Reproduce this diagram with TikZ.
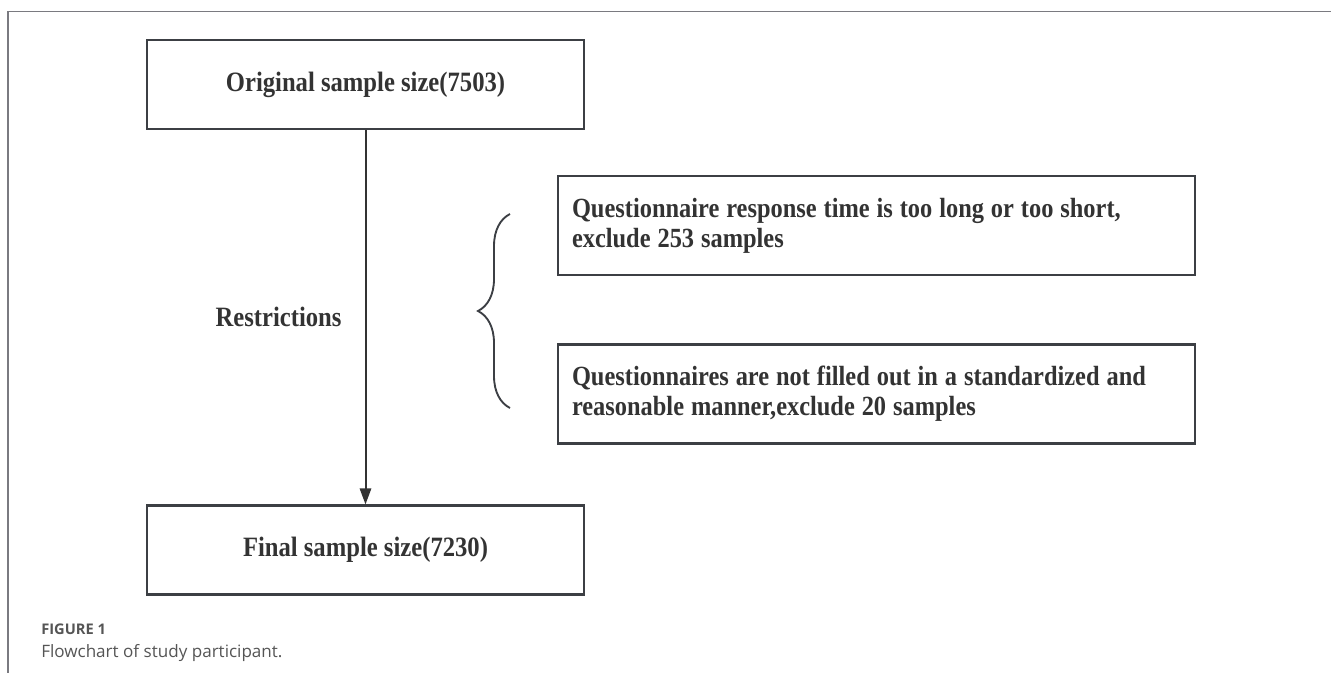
\documentclass[tikz,border=0pt]{standalone}
\usepackage{fontspec}
\setmainfont{Liberation Serif}[FakeStretch=0.88]
\newfontfamily\capfont{Open Sans}
\usetikzlibrary{arrows.meta,decorations.pathreplacing}
\definecolor{boxc}{HTML}{3C3F44}
\definecolor{txtc}{HTML}{333333}
\definecolor{framec}{HTML}{7A7A80}
\definecolor{capc}{HTML}{555555}
\newcommand{\tightsp}{\spaceskip=0.25em\relax}
\tikzset{
  mainbox/.style={draw=boxc, line width=1.6pt, minimum width=437*0.75pt, minimum height=89*0.75pt,
    inner sep=0pt, text=txtc, font=\fontsize{21}{24}\selectfont\bfseries},
  sidebox/.style={draw=boxc, line width=1.6pt, minimum width=637*0.75pt, minimum height=99*0.75pt,
    inner xsep=14*0.75pt, inner ysep=0pt, text width=609*0.75pt, align=left, text=txtc,
    font=\fontsize{20.8}{22.5}\selectfont\bfseries},
  lbl/.style={text=txtc, font=\fontsize{21}{24}\selectfont\bfseries, inner sep=0pt},
  flow/.style={draw=txtc, line width=1.5pt, -{Triangle[length=12pt,width=8.5pt]}},
}
\begin{document}
\begin{tikzpicture}[x=0.75pt,y=-0.75pt]
\useasboundingbox (0,0) rectangle (1331,673);
% frame
\draw[framec, line width=1.1pt] (8,673) -- (8,11.7) -- (1331,11.7);
% main boxes
\node[mainbox] (orig) at (365.5,84.5) {Original sample size(7503)};
\node[mainbox] (final) at (365.5,550) {Final sample size(7230)};
\draw[flow] (orig.south) -- (final.north);
\node[lbl] (restr) at (278.5,317) {Restrictions};
% side boxes
\node[sidebox] (ex1) at (876.5,225.5) {\tightsp Questionnaire response time is too long or too short,\\exclude 253 samples};
\node[sidebox] (ex2) at (876.5,394) {\tightsp Questionnaires are not filled out in a standardized and\\reasonable manner,exclude 20 samples};
% brace
\coordinate (bb) at (510,408);
\coordinate (bt) at (510,214);
\draw[boxc, line width=1.4pt, decorate, decoration={brace, amplitude=24pt}] (bb) -- (bt);
% caption
\node[anchor=base west, inner sep=0pt, text=capc, font=\capfont\fontsize{11}{12}\selectfont\bfseries] (figlbl) at (41,634) {FIGURE 1};
\node[anchor=base west, inner sep=0pt, text=capc, font=\capfont\fontsize{12.8}{15}\selectfont] (figcap) at (41,657) {Flowchart of study participant.};
\end{tikzpicture}
\end{document}
